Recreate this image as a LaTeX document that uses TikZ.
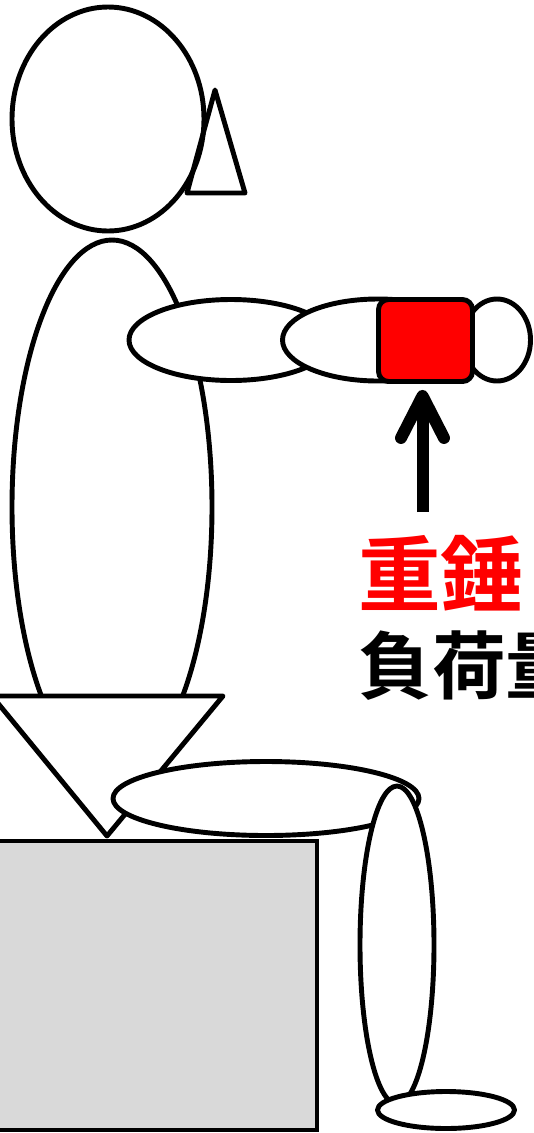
\documentclass[tikz,border=0pt]{standalone}
\usepackage{fontspec}
\usepackage{tikz}
\usetikzlibrary{arrows.meta}
\newfontfamily\jpfont{Noto Sans CJK JP}[BoldFont={Noto Sans CJK JP Bold}]
\definecolor{weightred}{HTML}{FF0000}
\definecolor{seatgray}{HTML}{D9D9D9}

\tikzset{
  bodypart/.style={draw=black, fill=white, line width=2.8pt, line join=round},
  weightbox/.style={draw=black, fill=weightred, line width=2.8pt, rounded corners=0.2cm,
    minimum width=1.88cm, minimum height=1.64cm, inner sep=0pt},
  liftarrow/.style={line width=0.24cm, -{Straight Barb[length=0.84cm, width=0.86cm, round]}},
  bigtext/.style={anchor=west, inner sep=0pt}
}

\begin{document}
\begin{tikzpicture}[x=0.02cm, y=-0.02cm]
  \useasboundingbox (0,0) rectangle (534,1133);
  \clip (0,0) rectangle (534,1133);
  \fill[white] (0,0) rectangle (534,1133);

  % Seat
  \draw[line width=2.8pt, fill=seatgray] (-10,841) rectangle (317,1130);

  % Head with ear
  \draw[bodypart] (108,119) ellipse [x radius=96, y radius=112];
  \draw[line width=2.8pt, line join=round] (215,90) -- (245,193) -- (187,193) -- cycle;

  % Torso and arm
  \draw[bodypart] (112,507) ellipse [x radius=100, y radius=267];
  \draw[bodypart] (231,340) ellipse [x radius=102, y radius=40.5];
  \draw[bodypart] (378,340) ellipse [x radius=95.5, y radius=41];
  \draw[bodypart] (497,340) ellipse [x radius=33.5, y radius=41];

  % Weight on the wrist
  \node[weightbox] (weight) at (425.5,340.5) {};

  % Hip and leg
  \draw[bodypart] (-8,696) -- (223,696) -- (107,836) -- cycle;
  \draw[bodypart] (266,798.5) ellipse [x radius=153, y radius=37];
  \draw[bodypart] (397,945) ellipse [x radius=37, y radius=159];
  \draw[bodypart] (446,1110) ellipse [x radius=68.5, y radius=18.5];

  % Arrow and labels
  \coordinate (tail) at (422.5,512);
  \draw[liftarrow, shorten >=0.12cm] (tail) -- (tail |- weight.south);

  \node[bigtext, text=weightred, font=\fontsize{47pt}{47pt}\selectfont\jpfont\bfseries] (hammer) at (358,573) {重錘};
  \node[bigtext, text=black, font=\fontsize{42pt}{42pt}\selectfont\jpfont\bfseries] (load) at (358,666) {負荷量};
\end{tikzpicture}
\end{document}
